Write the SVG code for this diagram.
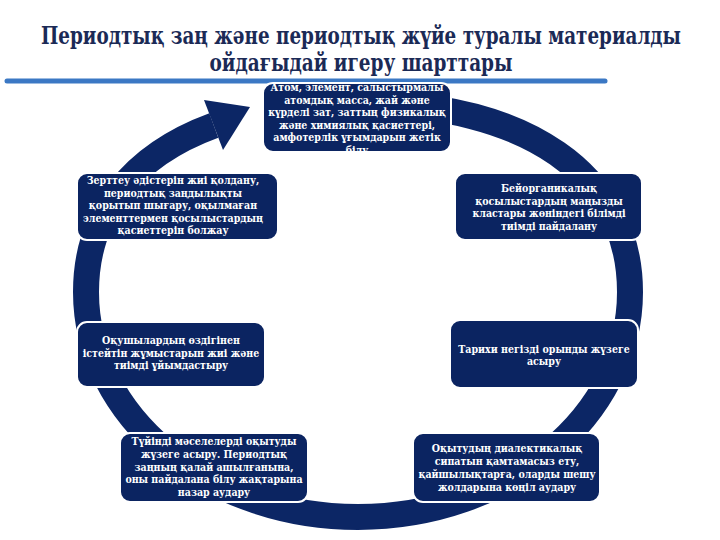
<svg xmlns="http://www.w3.org/2000/svg" width="720" height="540" viewBox="0 0 720 540">
  <style>
    .title { font-family: "DejaVu Serif Condensed", "DejaVu Serif", "Liberation Serif", serif; font-weight: bold; font-size: 24px; fill: #1b2a56; text-anchor: middle; }
    .box { fill: #0b2461; stroke: #ffffff; stroke-width: 2; }
    .t { font-family: "DejaVu Serif Condensed", "DejaVu Serif", "Liberation Serif", serif; font-weight: bold; font-size: 10.5px; fill: #ffffff; text-anchor: middle; }
    .ring { fill: none; stroke: #0c2665; stroke-width: 26; }
    .head { fill: #0c2665; }
  </style>
  <rect x="0" y="0" width="720" height="540" fill="#ffffff"/>
  <g id="title">
    <text class="title" x="361" y="44" textLength="640" lengthAdjust="spacingAndGlyphs">Периодтық заң және периодтық жүйе туралы материалды</text>
    <text class="title" x="361" y="71" textLength="303" lengthAdjust="spacingAndGlyphs">ойдағыдай игеру шарттары</text>
    <line x1="7" y1="81" x2="605" y2="81" stroke="#3b78c4" stroke-width="5" stroke-linecap="round"/>
  </g>
  <g id="connectors">
    <path class="ring" d="M358,103 C526.6,103 630,174.8 630,292 C630,416.3 508.2,517 358,517 C207.8,517 86,416.3 86,292 C86,213.5 132.4,155.3 213.8,125.5"/>
    <polygon class="head" points="204,100 250,107 223,150"/>
  </g>
  <g id="node-top">
    <rect class="box" x="263" y="83" width="188" height="69" rx="10"/>
    <text class="t" x="357" y="91">Атом, элемент, салыстырмалы</text>
    <text class="t" x="357" y="103.6">атомдық масса, жай және</text>
    <text class="t" x="357" y="116.2">күрделі зат, заттың физикалық</text>
    <text class="t" x="357" y="128.8">және химиялық қасиеттері,</text>
    <text class="t" x="357" y="141.4">амфотерлік ұғымдарын жетік</text>
    <text class="t" x="357" y="154">білу</text>
  </g>
  <g id="node-left1">
    <rect class="box" x="77" y="173" width="201" height="67" rx="10"/>
    <text class="t" x="173" y="184">Зерттеу әдістерін жиі қолдану,</text>
    <text class="t" x="173" y="196.5">периодтық заңдылықты</text>
    <text class="t" x="173" y="209">қорытып шығару, оқылмаған</text>
    <text class="t" x="173" y="221.5">элементтермен қосылыстардың</text>
    <text class="t" x="173" y="234">қасиеттерін болжау</text>
  </g>
  <g id="node-right1">
    <rect class="box" x="455" y="173" width="187" height="67" rx="10"/>
    <text class="t" x="549" y="192">Бейорганикалық</text>
    <text class="t" x="549" y="204.7">қосылыстардың маңызды</text>
    <text class="t" x="549" y="217.3">кластары жөніндегі білімді</text>
    <text class="t" x="549" y="230">тиімді пайдалану</text>
  </g>
  <g id="node-left2">
    <rect class="box" x="77" y="322" width="188" height="65" rx="10"/>
    <text class="t" x="171" y="344">Оқушылардың өздігінен</text>
    <text class="t" x="171" y="356.5">істейтін жұмыстарын жиі және</text>
    <text class="t" x="171" y="369">тиімді ұйымдастыру</text>
  </g>
  <g id="node-right2">
    <rect class="box" x="450" y="320" width="188" height="68" rx="10"/>
    <text class="t" x="544" y="352.5">Тарихи негізді орынды жүзеге</text>
    <text class="t" x="544" y="364.5">асыру</text>
  </g>
  <g id="node-bottom-left">
    <rect class="box" x="120" y="433" width="188" height="69" rx="10"/>
    <text class="t" x="214" y="445">Түйінді мәселелерді оқытуды</text>
    <text class="t" x="214" y="457.8">жүзеге асыру. Периодтық</text>
    <text class="t" x="214" y="470.6">заңның қалай ашылғанына,</text>
    <text class="t" x="214" y="483.4">оны пайдалана білу жақтарына</text>
    <text class="t" x="214" y="496.2">назар аудару</text>
  </g>
  <g id="node-bottom-right">
    <rect class="box" x="413" y="433" width="187" height="69" rx="10"/>
    <text class="t" x="507" y="452">Оқытудың диалектикалық</text>
    <text class="t" x="507" y="465">сипатын қамтамасыз ету,</text>
    <text class="t" x="507" y="478">қайшылықтарға, оларды шешу</text>
    <text class="t" x="507" y="491">жолдарына көңіл аудару</text>
  </g>
</svg>
